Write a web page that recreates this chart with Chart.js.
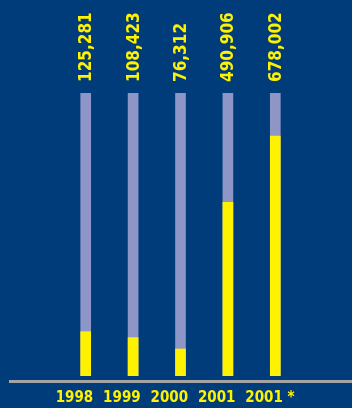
<!DOCTYPE html>
<html>
<head>
<meta charset="utf-8">
<script src="https://cdn.jsdelivr.net/npm/chart.js@4"></script>
<style>
  html, body { margin: 0; padding: 0; background: #003c7a; }
  #wrap { width: 352px; height: 408px; position: relative; }
</style>
</head>
<body>
<div id="wrap"><canvas id="chart"></canvas></div>
<script>
// values
const years = ["1998", "1999", "2000", "2001", "2001 *"];
const amounts = [125281, 108423, 76312, 490906, 678002];
const scaleMax = 800000;
const fullBars = years.map(() => scaleMax);

const YELLOW = "#fff200";
const PURPLE = "#8e96c8";
const FONT = "'DejaVu Sans Condensed', 'DejaVu Sans', sans-serif";

// grey base line under the bars
const baseLine = {
  id: "baseLine",
  afterDraw(chart) {
    const ctx = chart.ctx;
    const y = chart.chartArea.bottom + 5.5;
    ctx.save();
    ctx.strokeStyle = "#a4a4a4";
    ctx.lineWidth = 3;
    ctx.beginPath();
    ctx.moveTo(9, y);
    ctx.lineTo(chart.width, y);
    ctx.stroke();
    ctx.restore();
  }
};

// vertical value labels above each bar
const valueLabels = {
  id: "valueLabels",
  afterDatasetsDraw(chart) {
    const ctx = chart.ctx;
    const meta = chart.getDatasetMeta(0);
    ctx.save();
    ctx.fillStyle = YELLOW;
    ctx.font = "bold 17px " + FONT;
    ctx.textAlign = "left";
    ctx.textBaseline = "middle";
    meta.data.forEach((bar, i) => {
      ctx.save();
      ctx.translate(bar.x, chart.chartArea.top - 11);
      ctx.rotate(-Math.PI / 2);
      ctx.fillText(amounts[i].toLocaleString("en-US"), 0, 1);
      ctx.restore();
    });
    ctx.restore();
  }
};

new Chart(document.getElementById("chart"), {
  type: "bar",
  data: {
    labels: years,
    datasets: [
      { data: amounts, backgroundColor: YELLOW, barThickness: 10 },
      { data: fullBars, backgroundColor: PURPLE, barThickness: 10 }
    ]
  },
  options: {
    responsive: true,
    maintainAspectRatio: false,
    animation: false,
    events: [],
    layout: { padding: { top: 93, left: 62, right: 53, bottom: 1 } },
    plugins: { legend: { display: false }, tooltip: { enabled: false } },
    scales: {
      x: {
        stacked: true,
        grid: { display: false, drawTicks: false },
        border: { display: false },
        afterFit(scale) { scale.height = 31; },
        ticks: {
          color: YELLOW,
          padding: 13,
          autoSkip: false,
          maxRotation: 0,
          align: "start",
          labelOffset: -30,
          font: { family: FONT, size: 15, weight: "bold" }
        }
      },
      y: {
        display: false,
        stacked: false,
        min: 0,
        max: scaleMax
      }
    }
  },
  plugins: [baseLine, valueLabels]
});
</script>
</body>
</html>
